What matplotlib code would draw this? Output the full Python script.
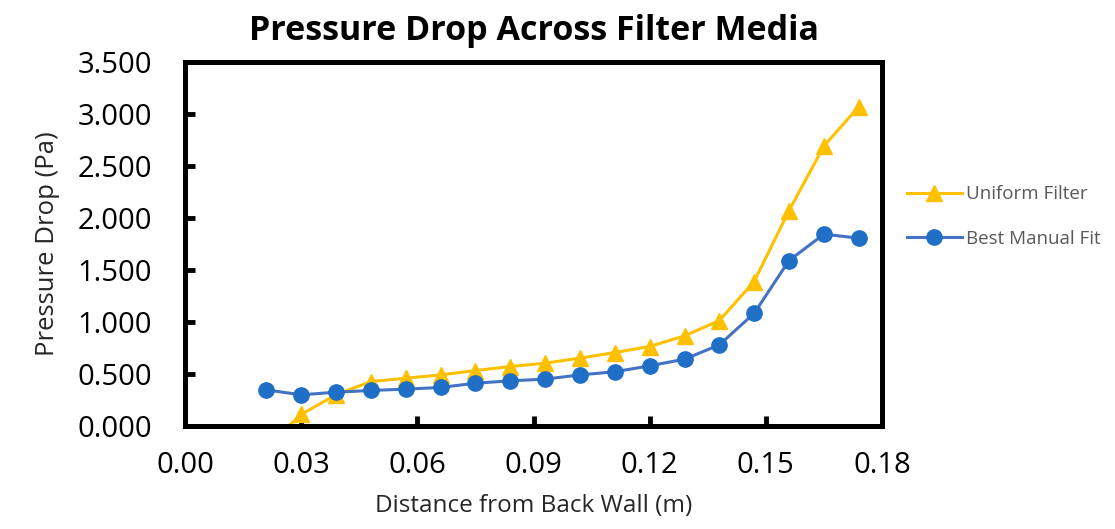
import matplotlib
matplotlib.use("Agg")
import matplotlib.pyplot as plt
from matplotlib.ticker import FormatStrFormatter

# distance from back wall (m)
distance = [0.021, 0.030, 0.039, 0.048, 0.057, 0.066, 0.075, 0.084, 0.093,
            0.102, 0.111, 0.120, 0.129, 0.138, 0.147, 0.156, 0.165, 0.174]

# pressure drop (Pa)
uniform_filter = [-0.20, 0.11, 0.30, 0.426, 0.458, 0.49, 0.532, 0.57, 0.603,
                  0.651, 0.705, 0.763, 0.865, 1.013, 1.388, 2.07, 2.69, 3.07]
best_manual_fit = [0.346, 0.298, 0.324, 0.34, 0.353, 0.369, 0.41, 0.433, 0.449,
                   0.49, 0.52, 0.577, 0.641, 0.779, 1.083, 1.59, 1.843, 1.805]

x_ticks = [0.00, 0.03, 0.06, 0.09, 0.12, 0.15, 0.18]
y_ticks = [0.0, 0.5, 1.0, 1.5, 2.0, 2.5, 3.0, 3.5]

plt.rcParams['font.family'] = ['Open Sans', 'DejaVu Sans']

fig = plt.figure(figsize=(11.15, 5.29), dpi=100)
ax = fig.add_axes([0.166, 0.195, 0.625, 0.688])

ax.plot(distance, uniform_filter, color='#FFC000', linewidth=2.2, marker='^',
        markersize=12, markerfacecolor='#FFC000', markeredgecolor='#FFC000',
        label='Uniform Filter')
ax.plot(distance, best_manual_fit, color='#4472C4', linewidth=2.2, marker='o',
        markersize=11, markerfacecolor='#1F6FC6', markeredgecolor='#1F6FC6',
        label='Best Manual Fit')

ax.set_xlim(0, 0.18)
ax.set_ylim(0, 3.5)
ax.set_xticks(x_ticks)
ax.set_yticks(y_ticks)
ax.xaxis.set_major_formatter(FormatStrFormatter('%.2f'))
ax.yaxis.set_major_formatter(FormatStrFormatter('%.3f'))
ax.tick_params(direction='in', length=7, width=3.5, labelsize=21, colors='black')
ax.tick_params(axis='y', pad=24)
ax.tick_params(axis='x', pad=18)

for spine in ax.spines.values():
    spine.set_linewidth(3.6)

ax.set_xlabel('Distance from Back Wall (m)', fontsize=17.5, color='#262626', labelpad=10)
ax.set_ylabel('Pressure Drop (Pa)', fontsize=18.5, color='#262626', labelpad=12)
ax.set_title('Pressure Drop Across Filter Media', fontsize=24.5, fontweight='bold', pad=16)

leg = ax.legend(loc='center left', bbox_to_anchor=(1.012, 0.575), frameon=False,
                fontsize=13.5, labelspacing=1.4, handlelength=2.9, handletextpad=0.25)
for t in leg.get_texts():
    t.set_color('#595959')

fig.savefig('out.png', dpi=100)
